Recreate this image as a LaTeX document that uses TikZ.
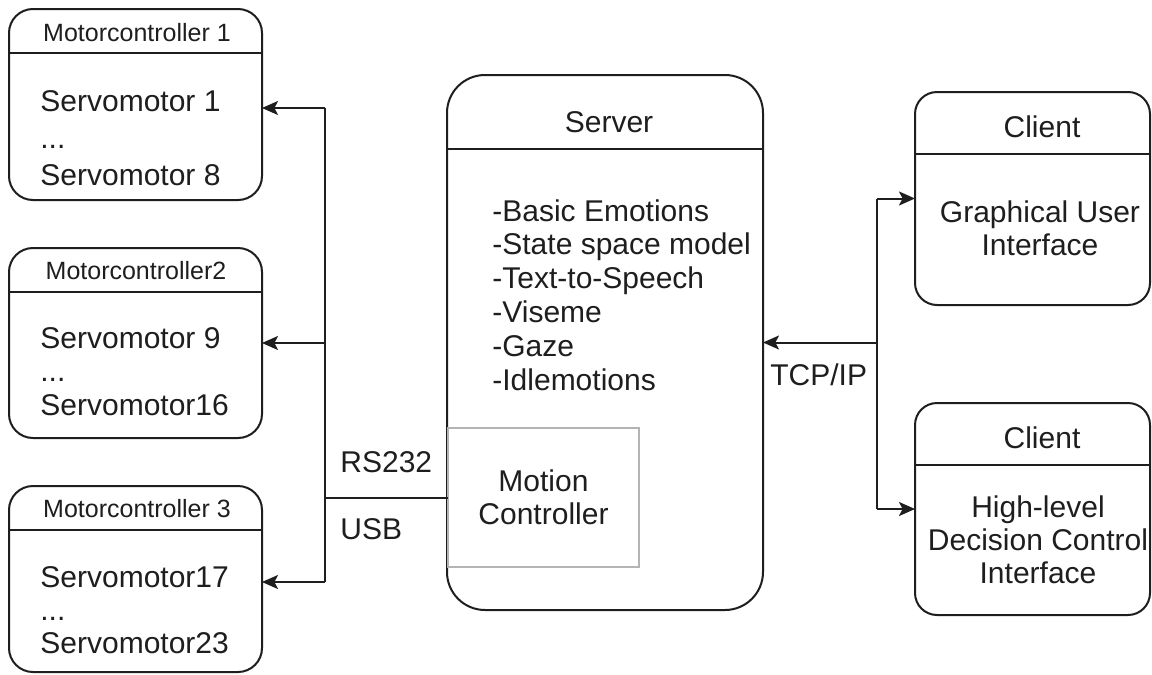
\documentclass[tikz,border=0pt]{standalone}
\usepackage{fontspec}
\setmainfont{Liberation Sans}
\usetikzlibrary{arrows.meta}
\definecolor{ink}{HTML}{1E1E1E}
\definecolor{mgray}{HTML}{B4B4B4}
\tikzset{
  box/.style={draw=ink, line width=1pt, inner sep=0pt, outer sep=0pt},
  motorbox/.style={box, rounded corners=12pt, minimum width=126.5pt},
  divider/.style={draw=ink, line width=1pt},
  headtxt/.style={text=ink, font=\fontsize{12.5pt}{14pt}\selectfont, inner sep=0pt, anchor=base},
  bigtxt/.style={text=ink, font=\fontsize{15pt}{16.5pt}\selectfont, inner sep=0pt},
  conn/.style={draw=ink, line width=1pt},
  arr/.style={conn, -{Stealth[length=8pt, width=7pt, inset=1.8pt]}},
}
\begin{document}
\begin{tikzpicture}[x=0.5pt, y=-0.5pt]
\path[use as bounding box, fill=white] (0,0) rectangle (1152,675);

% motor controller boxes
\node[motorbox, minimum height=95.5pt] (m1) at (135.5,104.5) {};
\node[motorbox, minimum height=95pt] (m2) at (135.5,343) {};
\node[motorbox, minimum height=93pt] (m3) at (135.5,579) {};
\draw[divider] (m1.west |- 0,53) -- (m1.east |- 0,53);
\draw[divider] (m2.west |- 0,292) -- (m2.east |- 0,292);
\draw[divider] (m3.west |- 0,530) -- (m3.east |- 0,530);
\node[headtxt] (m1h) at (137,41) {Motorcontroller 1};
\node[headtxt] (m2h) at (136,279) {Motorcontroller2};
\node[headtxt] (m3h) at (137,517) {Motorcontroller 3};
\node[bigtxt, anchor=base west, align=left, font=\fontsize{15pt}{18.5pt}\selectfont] (m1b) at (40,185) {Servomotor 1\\...\\Servomotor 8};
\node[bigtxt, anchor=base west, align=left, font=\fontsize{15pt}{16.75pt}\selectfont] (m2b) at (40,415) {Servomotor 9\\...\\Servomotor16};
\node[bigtxt, anchor=base west, align=left, font=\fontsize{15pt}{16.5pt}\selectfont] (m3b) at (40,653) {Servomotor17\\...\\Servomotor23};

% server
\node[box, rounded corners=19pt, minimum width=158pt, minimum height=267.5pt] (server) at (605,342.5) {};
\draw[divider] (server.west |- 0,149) -- (server.east |- 0,149);
\node[bigtxt, anchor=base] (serverh) at (609,132) {Server};
\node[bigtxt, anchor=base west, align=left, font=\fontsize{15pt}{16.9pt}\selectfont] (items) at (492,390)
  {-Basic Emotions\\-State space model\\-Text-to-Speech\\-Viseme\\-Gaze\\-Idlemotions};
\node[draw=mgray, line width=0.6pt, minimum width=95.5pt, minimum height=69.5pt, inner sep=0pt, outer sep=0pt,
  bigtxt, align=center] (motion) at (543.5,497.5) {Motion\\Controller};

% clients
\node[box, rounded corners=11pt, minimum width=117.5pt, minimum height=106.5pt] (c1) at (1032.5,198.5) {};
\node[box, rounded corners=11pt, minimum width=117.5pt, minimum height=106pt] (c2) at (1032.5,509) {};
\draw[divider] (c1.west |- 0,154) -- (c1.east |- 0,154);
\draw[divider] (c2.west |- 0,465) -- (c2.east |- 0,465);
\node[bigtxt, anchor=base] (c1h) at (1042,137) {Client};
\node[bigtxt, anchor=base] (c2h) at (1042,448) {Client};
\node[bigtxt, anchor=base, align=center] (c1b) at (1040,255) {Graphical User\\Interface};
\node[bigtxt, anchor=base, align=center] (c2b) at (1038,583) {High-level\\Decision Control\\Interface};

% left bus
\coordinate (m1in) at ([yshift=-1.75pt]m1.east);
\coordinate (m2in) at (m2.east);
\coordinate (m3in) at ([yshift=-1.5pt]m3.east);
\coordinate (bus) at (325,497.5);
\draw[conn] (motion.west) -- (bus);
\draw[conn] (bus |- m1in) -- (bus |- m3in);
\draw[arr] (bus |- m1in) -- (m1in);
\draw[arr] (bus |- m2in) -- (m2in);
\draw[arr] (bus |- m3in) -- (m3in);
\node[bigtxt, anchor=base west] (rs) at (340,472) {RS232};
\node[bigtxt, anchor=base west] (usb) at (340,539) {USB};

% right bus
\coordinate (tcp) at (877,342.5);
\draw[arr] (tcp) -- (server.east);
\draw[conn] (tcp |- c1.west) -- (tcp |- c2.west);
\draw[arr] (tcp |- c1.west) -- (c1.west);
\draw[arr] (tcp |- c2.west) -- (c2.west);
\node[bigtxt, anchor=base west] (tcplabel) at (770,385) {TCP/IP};
\end{tikzpicture}
\end{document}
